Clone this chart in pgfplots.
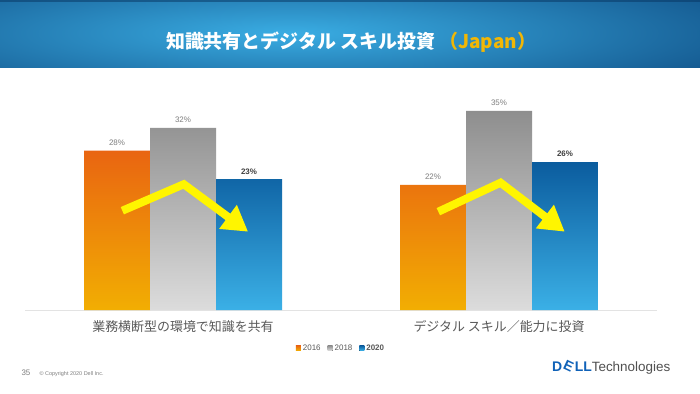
\documentclass[border=0pt]{standalone}
\usepackage{fontspec}
\setmainfont{Liberation Sans}
\newfontfamily\jp{Noto Sans CJK JP}
\usepackage{pgfplots}
\pgfplotsset{compat=1.18}
\usetikzlibrary{arrows.meta}
\definecolor{orTop}{HTML}{E96511}
\definecolor{orBot}{HTML}{F2AE02}
\definecolor{grTop}{HTML}{8E8E8E}
\definecolor{grBot}{HTML}{DCDCDC}
\definecolor{blTop}{HTML}{0B5C9E}
\definecolor{blBot}{HTML}{3BB0E6}
\definecolor{barDark}{HTML}{0A4279}
\definecolor{barLight}{HTML}{3AADE3}
\definecolor{gold}{HTML}{F2B705}
\definecolor{labelGray}{HTML}{595959}
\definecolor{valGray}{HTML}{7F7F7F}
\definecolor{valDark}{HTML}{404040}
\definecolor{lineGray}{HTML}{E3E3E3}
\definecolor{dellBlue}{HTML}{1062B8}
\definecolor{techGray}{HTML}{505050}
\definecolor{arrowYellow}{HTML}{FFF500}
\begin{document}
\begin{tikzpicture}[x=1bp,y=1bp]
\useasboundingbox (0,0) rectangle (700,393);
\fill[white] (0,0) rectangle (700,393);
% title bar
\begin{scope}
\clip (0,326) rectangle (700,393);
\fill[barDark] (0,326) rectangle (700,393);
\shade[inner color=barLight, outer color=barDark] (-330,270) rectangle (910,450);
\fill[barDark!80!black, opacity=0.5] (0,391) rectangle (700,393);
\end{scope}
\node[font=\jp\bfseries\fontsize{19}{21}\selectfont, text=white] at (351,351)
  {知識共有とデジタル スキル投資 \textcolor{gold}{（Japan）}};

\begin{axis}[
  at={(25bp,83bp)}, anchor=south west, scale only axis,
  width=632bp, height=227.6bp,
  xmin=-0.5, xmax=1.5, ymin=0, ymax=40,
  ybar=0pt, bar width=66bp,
  axis x line*=bottom, axis y line=none,
  x axis line style={draw=lineGray, line width=0.8bp, -},
  xtick={0,1},
  xticklabels={業務横断型の環境で知識を共有, デジタル スキル／能力に投資},
  major tick length=0pt,
  xticklabel style={font=\jp\fontsize{13}{15}\selectfont, text=labelGray, anchor=center, yshift=-17bp},
  ytick=\empty,
  clip=false,
  /pgf/number format/assume math mode=true,
  nodes near coords={\pgfmathprintnumber{\pgfplotspointmeta}\%},
  every node near coord/.append style={font=\fontsize{8}{9}\selectfont, text=valGray, yshift=1.5bp},
  legend style={at={(0.5,-0.167)}, anchor=center, draw=none, fill=none,
    font=\fontsize{8}{9}\selectfont, text=labelGray,
    /tikz/every even column/.append style={column sep=5bp}},
  legend columns=3,
  legend image code/.code={\fill[#1] (0bp,-2.5bp) rectangle (5bp,2.5bp);},
]
\addplot[draw=none, top color=orTop, bottom color=orBot] coordinates {(0,28) (1,22)};
\addplot[draw=none, top color=grTop, bottom color=grBot] coordinates {(0,32) (1,35)};
\addplot[draw=none, top color=blTop, bottom color=blBot,
  every node near coord/.append style={font=\bfseries\fontsize{8}{9}\selectfont, text=valDark}] coordinates {(0,23) (1,26)};
\legend{2016, 2018, \textbf{2020}}
\draw[line width=8bp, arrowYellow, line join=miter, -{Triangle[width=28bp,length=25bp]}]
  (axis cs:-0.192,17.45) -- (axis cs:0.0025,22.1) -- (axis cs:0.206,13.76);
\draw[line width=8bp, arrowYellow, line join=miter, -{Triangle[width=28bp,length=25bp]}]
  (axis cs:0.808,17.28) -- (axis cs:1.005,22.37) -- (axis cs:1.208,13.76);
\end{axis}

\node[anchor=west, font=\fontsize{8}{9}\selectfont, text=valGray] at (18,20) {35};
\node[anchor=west, font=\fontsize{5.5}{6}\selectfont, text=valGray] at (36,19) {© Copyright 2020 Dell Inc.};
\node[anchor=west, inner sep=0pt] at (552,26)
  {{\bfseries\color{dellBlue}\fontsize{14}{14}\selectfont D\rotatebox[origin=c]{-25}{E}LL}{\color{techGray}\fontsize{13.5}{14}\selectfont Technologies}};
\end{tikzpicture}
\end{document}
